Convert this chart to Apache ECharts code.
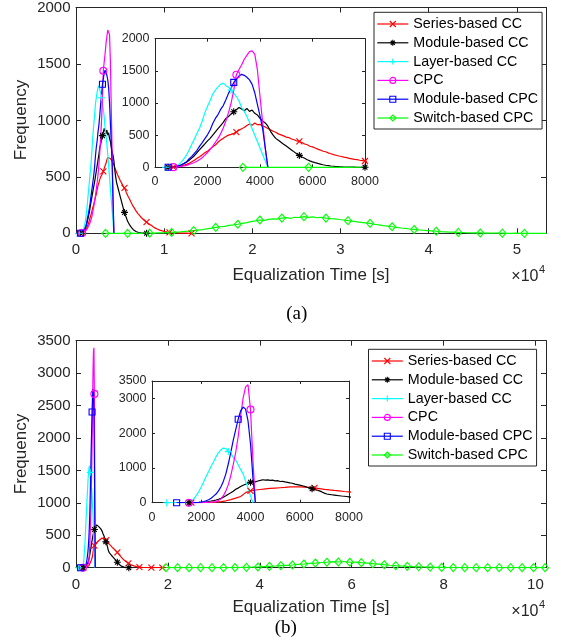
<!DOCTYPE html>
<html><head><meta charset="utf-8">
<script src="https://cdn.jsdelivr.net/npm/echarts@6/dist/echarts.min.js"></script>
<style>html,body{margin:0;padding:0;background:#fff}#c{width:562px;height:643px}</style>
</head><body><div id="c"></div>
<script>
// ---------------- DATA ----------------
const seriesNames = ['Series-based CC','Module-based CC','Layer-based CC','CPC','Module-based CPC','Switch-based CPC'];
const xTicksMainA = [0,1,2,3,4,5];          // x 10^4 s
const xTicksMainB = [0,2,4,6,8,10];         // x 10^4 s
const xTicksInset = [0,2000,4000,6000,8000];

// Panel (a): each series = start time [s], bin step [s], frequencies
const a_seriesCC_start = 600, a_seriesCC_step = 100;
const a_seriesCC = [0,3,8,14,20,32,45,62,85,110, 140,165,195,228,250,285,318,345,390,425,
 450,478,500,512,528,548,575,600,618,650, 672,655,688,662,668,640,628,605,582,560,
 545,520,505,488,470,462,440,428,410,402, 385,362,350,328,318,300,282,268,250,242,
 225,210,198,188,176,168,158,150,140,132, 124,118,110,104,98,92,88,82,76,70,
 66,60,55,50,46,42,38,35,31,28, 26,23,21,19,17,15,14,12,11,10,
 9,8,7,6,6,5,5,4,4,3, 3,3,2,2,2,2,1,1,1,1, 1,0,0,0,0,0];
const a_seriesCC_marks = [700,3100,5500,8000,10600,13100];

const a_moduleCC_start = 500, a_moduleCC_step = 100;
const a_moduleCC = [0,2,6,12,20,35,55,80,110,145, 180,230,275,320,365,410,450,500,550,600,
 650,700,760,790,830,865,895,930,905,880, 915,870,890,840,815,760,720,690,640,560,
 500,450,420,390,360,330,300,270,240,210, 185,160,140,118,100,85,72,60,50,40,
 32,26,20,16,12,9,7,5,4,3, 2,2,1,1,0,0];
const a_moduleCC_marks = [500,3000,5500,8000];

const a_layerCC_start = 400, a_layerCC_step = 100;
const a_layerCC = [0,0,2,8,20,45,80,130,190,270, 360,440,530,610,720,850,950,1040,1140,1200,
 1250,1290,1310,1270,1245,1200,1150,1100,1030,930, 870,790,700,600,500,400,300,200,100,0];
const a_layerCC_marks = [400,2900];

const a_cpc_start = 600, a_cpc_step = 100;
const a_cpc = [0,2,5,10,15,22,30,45,60,75, 95,120,150,190,230,280,330,390,450,520,
 610,720,850,1000,1200,1440,1520,1590,1680,1740, 1800,1810,1760,1520,1100,700,300,0];
const a_cpc_marks = [700,3100];

const a_moduleCPC_start = 500, a_moduleCPC_step = 100;
const a_moduleCPC = [0,3,8,15,25,40,60,85,135,170, 215,265,330,385,445,505,580,680,760,820,
 900,960,1050,1150,1230,1320,1370,1420,1445,1430, 1400,1360,1290,1160,980,800,600,300,0];
const a_moduleCPC_marks = [500,3000];

const a_switchCPC_start = 3350, a_switchCPC_step = 500;
const a_switchCPC = [0,0,0,0,0,0,0,0,0,1, 1,2,3,4,6,8,11,13,17,20, 24,28,33,40,46,53,58,62,70,74,
 80,88,95,103,110,118,115,124,128,126, 135,138,133,142,140,147,141,146,138,142,
 135,130,127,122,118,112,107,102,97,92, 88,80,74,68,63,58,53,47,43,38,
 34,30,27,24,21,18,15,13,11,10, 8,7,5,4,3,3,2,2,1,1, 1,0,0,1,0,0,0,0,0,0, 0];
const a_switchCPC_marks = [3350,5850,8350,10850,13350,15850,18350,20850,23350,25850,28350,
 30850,33350,35850,38350,40850,43350,45850,48350,50850,53350];

// Panel (b)
const b_seriesCC_start = 1600, b_seriesCC_step = 200;
const b_seriesCC = [0,1,3,6,10,16,30,55,90,130, 180,290,340,365,380,395,410,420,430,440,
 455,458,455,448,440,425,405,385,368,352, 338,322,310,295,280,265,250,235,218,200,
 183,166,150,135,122,110,98,88,78,68, 60,52,45,39,33,28,24,20,17,14,
 12,10,8,7,6,5,4,3,3,2, 2,2,1,1,1,1,0,0,0,0, 0,0,0,0,0,0,0,0,0,0, 0];
const b_seriesCC_marks = [1600,4000,6600,9000,11400,13800,16400,18800];

const b_moduleCC_start = 1500, b_moduleCC_step = 100;
const b_moduleCC = [0,2,4,6,9,13,18,25,35,48, 62,78,100,125,160,200,245,285,330,385,
 420,465,500,530,575,590,610,600,625,640, 660,650,655,640,648,630,635,610,615,598,
 585,570,560,535,520,505,488,470,445,420, 400,385,360,340,310,275,250,238,228,218,
 208,200,192,185,178,170,160,152,145,136, 128,120,110,100,92,85,75,66,58,50,
 44,38,33,28,24,20,17,14,11,9, 7,6,4,3,2,2,1,1,0,0, 0];
const b_moduleCC_marks = [1500,4000,6500,9000,11500];

const b_layerCC_start = 600, b_layerCC_step = 100;
const b_layerCC = [0,0,0,0,0,0,0,0,2,8, 40,110,210,320,450,600,760,900,1050,1180,
 1320,1440,1520,1570,1555,1470,1420,1300,1220,1090, 950,830,620,420,200,0];
const b_layerCC_marks = [600,3100];

const b_cpc_start = 1500, b_cpc_step = 100;
const b_cpc = [0,0,0,1,2,4,6,9,13,18, 25,33,60,110,200,340,520,780,1100,1450,
 1900,2500,3005,3330,3390,2680,1200,0];
const b_cpc_marks = [1500,4000];

const b_moduleCPC_start = 1000, b_moduleCPC_step = 100;
const b_moduleCPC = [0,0,0,0,0,0,0,2,5,10, 20,35,55,85,130,190,250,340,460,620,
 830,1120,1450,1800,2100,2400,2640,2750,2690,2350, 1700,700,0];
const b_moduleCPC_marks = [1000,3500];

const b_switchCPC_start = 19600, b_switchCPC_step = 1250;
const b_switchCPC = [0,0,0,0,0,0,0,0,1,1, 1,2,3,4,6,8,11,16,21,26, 32,37,42,50,57,66,72,80,84,93,
 88,96,84,85,77,70,62,55,46,38, 31,26,21,17,14,11,9,6,5,3, 2,2,1,1,1,0,1,0,0,0, 0,0,0,0,0,0,0];
const b_switchCPC_marks = [];
for (let k = 0; k < b_switchCPC.length; k += 2) b_switchCPC_marks.push(b_switchCPC_start + k * b_switchCPC_step);

// ---------------- STYLE ----------------
const colors = ['#ff0000','#000000','#00ffff','#ff00ff','#0000ff','#00ff00'];
const symbols = ['path://M0,0L10,10M10,0L0,10',
  'path://M5,0L5,10M0,5L10,5M1.6,1.6L8.4,8.4M8.4,1.6L1.6,8.4',
  'path://M5,0L5,10M0,5L10,5','circle','rect','diamond'];
const symSizes = [6,7,7,7,6,[7,8]];
const AX = '#262626';
const FONT = '"Liberation Sans", Arial, sans-serif';

function buildData(start, step, vals, marks){
  return vals.map((v, i) => {
    const t = start + i * step;
    const isMark = marks.some(m => Math.abs(m - t) < step / 2);
    return isMark ? {value:[t, v]} : {value:[t, v], symbol:'none'};
  });
}
const panelA = [
  [a_seriesCC_start,a_seriesCC_step,a_seriesCC,a_seriesCC_marks],
  [a_moduleCC_start,a_moduleCC_step,a_moduleCC,a_moduleCC_marks],
  [a_layerCC_start,a_layerCC_step,a_layerCC,a_layerCC_marks],
  [a_cpc_start,a_cpc_step,a_cpc,a_cpc_marks],
  [a_moduleCPC_start,a_moduleCPC_step,a_moduleCPC,a_moduleCPC_marks],
  [a_switchCPC_start,a_switchCPC_step,a_switchCPC,a_switchCPC_marks]];
const panelB = [
  [b_seriesCC_start,b_seriesCC_step,b_seriesCC,b_seriesCC_marks],
  [b_moduleCC_start,b_moduleCC_step,b_moduleCC,b_moduleCC_marks],
  [b_layerCC_start,b_layerCC_step,b_layerCC,b_layerCC_marks],
  [b_cpc_start,b_cpc_step,b_cpc,b_cpc_marks],
  [b_moduleCPC_start,b_moduleCPC_step,b_moduleCPC,b_moduleCPC_marks],
  [b_switchCPC_start,b_switchCPC_step,b_switchCPC,b_switchCPC_marks]];

function mkSeries(idx, p, axisIdx, z){
  return {type:'line', name:seriesNames[idx], xAxisIndex:axisIdx, yAxisIndex:axisIdx, z:z,
    data: buildData(p[0], p[1], p[2], p[3]),
    symbol:symbols[idx], symbolSize:symSizes[idx], showSymbol:true, showAllSymbol:true,
    lineStyle:{color:colors[idx], width:1.2},
    itemStyle:{color: idx >= 3 ? 'rgba(255,255,255,0)' : colors[idx], borderColor:colors[idx], borderWidth:1.1},
    emphasis:{disabled:true}, silent:true, animation:false, clip:true};
}
const series = [];
panelA.forEach((p,i)=>series.push(mkSeries(i,p,0,2)));
panelA.forEach((p,i)=>series.push(mkSeries(i,p,2,6)));
panelB.forEach((p,i)=>series.push(mkSeries(i,p,4,2)));
panelB.forEach((p,i)=>series.push(mkSeries(i,p,6,6)));

// ---------------- AXES ----------------
const grids = [
  {left:76, top:6.7, width:470, height:226.6},
  {left:155, top:38.7, width:210, height:128.6},
  {left:76, top:340.7, width:470, height:227},
  {left:152, top:381, width:197, height:121.7}];
function xAx(g, pos, max, interval, ticks, scale, fs, tickLen, margin, z){
  return {gridIndex:g, type:'value', position:pos, min:0, max:max, interval:interval, z:z,
    axisLine:{show:true, onZero:false, lineStyle:{color:AX, width:1}},
    axisTick:{show:true, inside:true, length:tickLen, lineStyle:{color:AX, width:1}},
    axisLabel:{show: pos === 'bottom', showMaxLabel: ticks.indexOf(max/scale) >= 0, margin:margin, color:AX, fontSize:fs, fontFamily:FONT,
      formatter: v => ticks.indexOf(v/scale) >= 0 ? String(v/scale) : ''},
    splitLine:{show:false}};
}
function yAx(g, pos, max, interval, fs, tickLen, margin, z){
  return {gridIndex:g, type:'value', position:pos, min:0, max:max, interval:interval, z:z,
    axisLine:{show:true, onZero:false, lineStyle:{color:AX, width:1}},
    axisTick:{show:true, inside:true, length:tickLen, lineStyle:{color:AX, width:1}},
    axisLabel:{show: pos === 'left', margin:margin, color:AX, fontSize:fs, fontFamily:FONT,
      formatter: v => String(v)},
    splitLine:{show:false}};
}
const xAxes = [
  xAx(0,'bottom',53300,10000,xTicksMainA,10000,15,5,9,1), xAx(0,'top',53300,10000,xTicksMainA,10000,15,5,9,1),
  xAx(1,'bottom',8000,2000,xTicksInset,1,12.5,3,8,6), xAx(1,'top',8000,2000,xTicksInset,1,12.5,3,8,6),
  xAx(2,'bottom',102300,20000,xTicksMainB,10000,15,5,9.5,1), xAx(2,'top',102300,20000,xTicksMainB,10000,15,5,9.5,1),
  xAx(3,'bottom',8000,2000,xTicksInset,1,12.5,3,8,6), xAx(3,'top',8000,2000,xTicksInset,1,12.5,3,8,6)];
const yAxes = [
  yAx(0,'left',2000,500,15,5,5.5,1), yAx(0,'right',2000,500,15,5,5.5,1),
  yAx(1,'left',2000,500,12.5,3,5.5,6), yAx(1,'right',2000,500,12.5,3,5.5,6),
  yAx(2,'left',3500,500,15,5,5.5,1), yAx(2,'right',3500,500,15,5,5.5,1),
  yAx(3,'left',3500,1000,12.5,3,5.5,6), yAx(3,'right',3500,1000,12.5,3,5.5,6)];

function legend(left, top){
  return {orient:'vertical', left:left, top:top, itemWidth:31, itemHeight:7.5, itemGap:4.8,
    padding:[4.7,4,4,2.7], backgroundColor:'#fff', borderColor:AX, borderWidth:1, borderRadius:0,
    selectedMode:false, z:10, data:seriesNames,
    itemStyle:{borderWidth:1.1}, lineStyle:{width:1.2},
    textStyle:{fontSize:14.3, lineHeight:14, color:'#000', fontFamily:FONT}};
}
function txt(x, y, text, size, extra){
  return Object.assign({type:'text', x:x, y:y, z:20, silent:true,
    style:{text:text, fill:AX, font: size + 'px ' + FONT, align:'center', verticalAlign:'middle',
      textAlign:'center', textVerticalAlign:'middle'}}, extra || {});
}
function rtxt(x, y, text, size){
  const t = txt(x, y, text, size); t.style.align = 'right'; t.style.textAlign = 'right'; return t;
}
function ltxt(x, y, text, size){
  const t = txt(x, y, text, size); t.style.align = 'left'; t.style.textAlign = 'left'; return t;
}
const serif = '"Liberation Serif", "Times New Roman", serif';
const graphic = [
  {type:'rect', z:4, silent:true, shape:{x:155, y:38.7, width:210, height:128.6}, style:{fill:'#fff'}},
  {type:'rect', z:4, silent:true, shape:{x:152, y:381, width:197, height:121.7}, style:{fill:'#fff'}},
  txt(21.6, 120, 'Frequency', 17, {rotation: Math.PI/2}),
  txt(21.6, 454, 'Frequency', 17, {rotation: Math.PI/2}),
  txt(311, 275, 'Equalization Time [s]', 17),
  txt(311, 607.3, 'Equalization Time [s]', 17),
  rtxt(538.5, 277, '\u00d710', 16), ltxt(539, 270, '4', 11),
  rtxt(538.5, 611.7, '\u00d710', 16), ltxt(539, 604.5, '4', 11),
  {type:'text', x:296.7, y:314, z:20, silent:true, style:{text:'(a)', fill:'#000', font:'19px ' + serif, align:'center', verticalAlign:'middle', textAlign:'center', textVerticalAlign:'middle'}},
  {type:'text', x:285.8, y:628.3, z:20, silent:true, style:{text:'(b)', fill:'#000', font:'19px ' + serif, align:'center', verticalAlign:'middle', textAlign:'center', textVerticalAlign:'middle'}}
];

const chart = echarts.init(document.getElementById('c'), null, {renderer:'canvas'});
chart.setOption({
  backgroundColor:'#fff', animation:false,
  grid: grids, xAxis: xAxes, yAxis: yAxes,
  legend: [legend(374, 12.3), legend(368.5, 349.3)],
  graphic: graphic,
  series: series
});
</script></body></html>
